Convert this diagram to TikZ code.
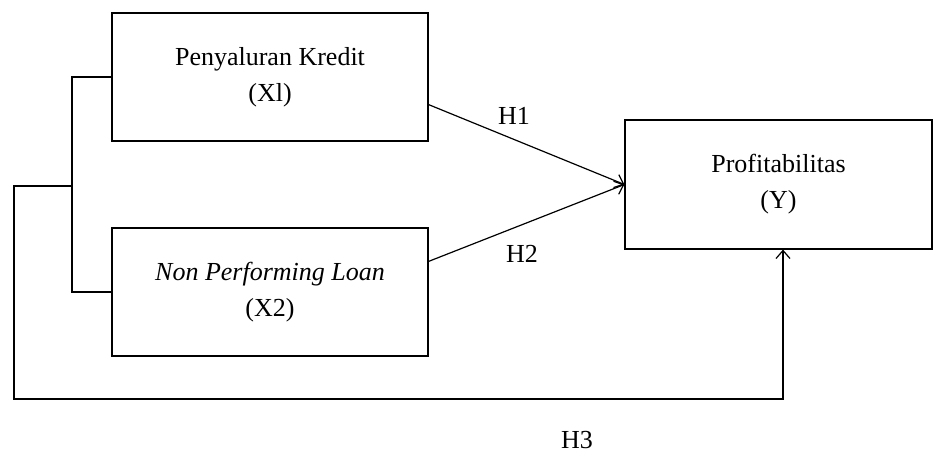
\documentclass[tikz,border=0pt]{standalone}
\usepackage{fontspec}
\setmainfont{Liberation Serif}
\usetikzlibrary{arrows.meta,calc}
\begin{document}
\begin{tikzpicture}[x=1pt,y=-1pt,line width=1.2pt,
  varbox/.style={draw,inner sep=0pt,align=center,font=\fontsize{26}{36}\selectfont},
  lbl/.style={inner sep=0pt,anchor=base,text depth=0pt,font=\fontsize{26}{28}\selectfont},
  arr/.style={-{Straight Barb[length=8pt,width=14pt,line width=1.2pt]}}]
\useasboundingbox (0,0) rectangle (933,452);
\node[varbox,minimum width=316pt,minimum height=128pt] (b1) at (270,77) {Penyaluran Kredit\\(Xl)};
\node[varbox,minimum width=316pt,minimum height=128pt] (b2) at (270,292) {\textit{Non Performing Loan}\\(X2)};
\node[varbox,minimum width=307pt,minimum height=129pt] (b3) at (778.5,184.5) {Profitabilitas\\(Y)};
\coordinate (s1) at ($(b1.south east)+(0,-37)$);
\coordinate (s2) at ($(b2.north east)+(0,34)$);
\coordinate (j) at (72,186);
\coordinate (c1) at (14,186);
\coordinate (c2) at (14,399);
\coordinate (c3) at (783,399);
\draw (b1.west) -| (72,292) -- (b2.west);
\draw[arr] (j) -- (c1) -- (c2) -- (c3) -- (c3 |- b3.south);
\draw[arr] (s1) -- (b3.west);
\draw[arr] (s2) -- (b3.west);
\node[lbl] (h1) at (514,124) {H1};
\node[lbl] (h2) at (522,262) {H2};
\node[lbl] (h3) at (577,448) {H3};
\end{tikzpicture}
\end{document}
